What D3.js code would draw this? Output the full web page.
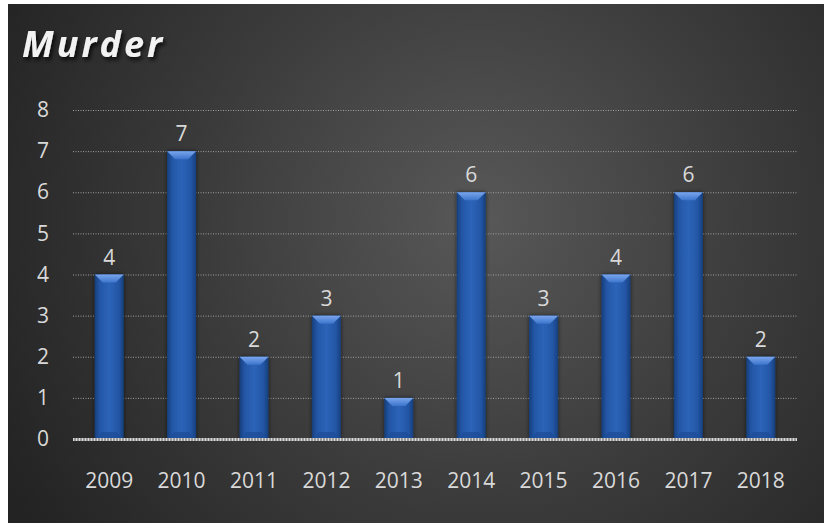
<!DOCTYPE html>
<html><head><meta charset="utf-8">
<script src="https://cdn.jsdelivr.net/npm/d3@7"></script>
<style>
html,body{margin:0;padding:0;background:#fff;}
svg{display:block;}
</style></head>
<body>
<script>
const categories = ["2009","2010","2011","2012","2013","2014","2015","2016","2017","2018"];
const values = [4,7,2,3,1,6,3,4,6,2];
const yTicks = [0,1,2,3,4,5,6,7,8];
const title = "Murder";

const W = 824, H = 523;
const FONT = "'Open Sans', 'DejaVu Sans', sans-serif";
const svg = d3.select("body").append("svg").attr("width", W).attr("height", H);
const defs = svg.append("defs");

const bg = defs.append("radialGradient").attr("id","bg")
  .attr("gradientUnits","userSpaceOnUse").attr("cx",480).attr("cy",220).attr("r",540);
bg.append("stop").attr("offset","0%").attr("stop-color","#585858");
bg.append("stop").attr("offset","50%").attr("stop-color","#3c3c3c");
bg.append("stop").attr("offset","100%").attr("stop-color","#232323");

const barG = defs.append("linearGradient").attr("id","bar").attr("x1","0").attr("x2","1").attr("y1","0").attr("y2","0");
barG.append("stop").attr("offset","0%").attr("stop-color","#163f7c");
barG.append("stop").attr("offset","18%").attr("stop-color","#2456a6");
barG.append("stop").attr("offset","50%").attr("stop-color","#2d64b8");
barG.append("stop").attr("offset","82%").attr("stop-color","#2456a6");
barG.append("stop").attr("offset","100%").attr("stop-color","#163f7c");

const topG = defs.append("linearGradient").attr("id","topb").attr("x1","0").attr("x2","0").attr("y1","0").attr("y2","1");
topG.append("stop").attr("offset","0%").attr("stop-color","#7aa6ec");
topG.append("stop").attr("offset","100%").attr("stop-color","#3d75cc");

const sh = defs.append("filter").attr("id","tshadow").attr("x","-10%").attr("y","-20%").attr("width","130%").attr("height","160%");
sh.append("feDropShadow").attr("dx",2).attr("dy",3).attr("stdDeviation",2).attr("flood-color","#000").attr("flood-opacity",0.8);

const bsh = defs.append("filter").attr("id","bshadow").attr("x","-30%").attr("y","-10%").attr("width","160%").attr("height","120%");
bsh.append("feDropShadow").attr("dx",0).attr("dy",0).attr("stdDeviation",2).attr("flood-color","#000").attr("flood-opacity",0.6);

svg.append("rect").attr("x",8).attr("y",4).attr("width",W-8).attr("height",H-4).attr("fill","url(#bg)");

svg.append("text").attr("x",22).attr("y",57).text(title)
  .attr("font-family",FONT).attr("font-style","italic").attr("font-weight","bold")
  .attr("font-size",36).attr("letter-spacing",3).attr("fill","#f2f2f2").attr("filter","url(#tshadow)");

const x = d3.scaleBand().domain(categories).range([73,797]).paddingInner(0.6).paddingOuter(0.3);
const y = d3.scaleLinear().domain([0,8]).range([439,110]);

// gridlines
const grid = svg.append("g");
grid.selectAll("line").data(yTicks.filter(d=>d>0)).join("line")
  .attr("x1",73).attr("x2",797).attr("y1",d=>y(d)+0.5).attr("y2",d=>y(d)+0.5)
  .attr("stroke","#a0a0a0").attr("stroke-width",1).attr("stroke-dasharray","1,1.5");

// y axis labels
const yAxis = d3.axisLeft(y).tickValues(yTicks).tickSize(0).tickPadding(0);
const ya = svg.append("g").attr("transform","translate(43,0)").call(yAxis);
ya.select(".domain").remove();
ya.selectAll("text").attr("font-family",FONT).attr("font-size",21).attr("fill","#d9d9d9")
  .attr("text-anchor","middle").attr("x",0);

// bars
const bars = svg.append("g").selectAll("g").data(values).join("g");
bars.append("rect")
  .attr("x",(d,i)=>x(categories[i])).attr("y",d=>y(d))
  .attr("width",x.bandwidth()).attr("height",d=>y(0)-y(d))
  .attr("fill","url(#bar)").attr("filter","url(#bshadow)");
bars.append("path")
  .attr("d",(d,i)=>{const x0=x(categories[i]),x1=x0+x.bandwidth(),t=y(d);const b=8;
    return `M${x0},${t}L${x1},${t}L${x1-b},${t+8}L${x0+b},${t+8}Z`;})
  .attr("fill","url(#topb)");
bars.append("path")
  .attr("d",(d,i)=>{const x0=x(categories[i]),x1=x0+x.bandwidth(),b0=y(0);const b=7;
    return `M${x0},${b0}L${x1},${b0}L${x1-b},${b0-7}L${x0+b},${b0-7}Z`;})
  .attr("fill","#1d4d98").attr("opacity",0.8);

// data labels
svg.append("g").selectAll("text").data(values).join("text")
  .attr("x",(d,i)=>x(categories[i])+x.bandwidth()/2).attr("y",d=>y(d)-10)
  .attr("text-anchor","middle").text(d=>d)
  .attr("font-family",FONT).attr("font-size",21).attr("fill","#d9d9d9");

// baseline axis
svg.append("line").attr("x1",73).attr("x2",797).attr("y1",y(0)+0.5).attr("y2",y(0)+0.5)
  .attr("stroke","#9a9a9a").attr("stroke-width",3);
svg.append("line").attr("x1",73).attr("x2",797).attr("y1",y(0)+0.5).attr("y2",y(0)+0.5)
  .attr("stroke","#d8d8d8").attr("stroke-width",3).attr("stroke-dasharray","1,2");

// x axis labels
const xAxis = d3.axisBottom(x).tickSize(0).tickPadding(0);
const xa = svg.append("g").attr("transform",`translate(0,${y(0)})`).call(xAxis);
xa.select(".domain").remove();
xa.selectAll("text").attr("font-family",FONT).attr("font-size",21).attr("fill","#d9d9d9")
  .attr("dy",null).attr("y",49);
</script>
</body></html>
